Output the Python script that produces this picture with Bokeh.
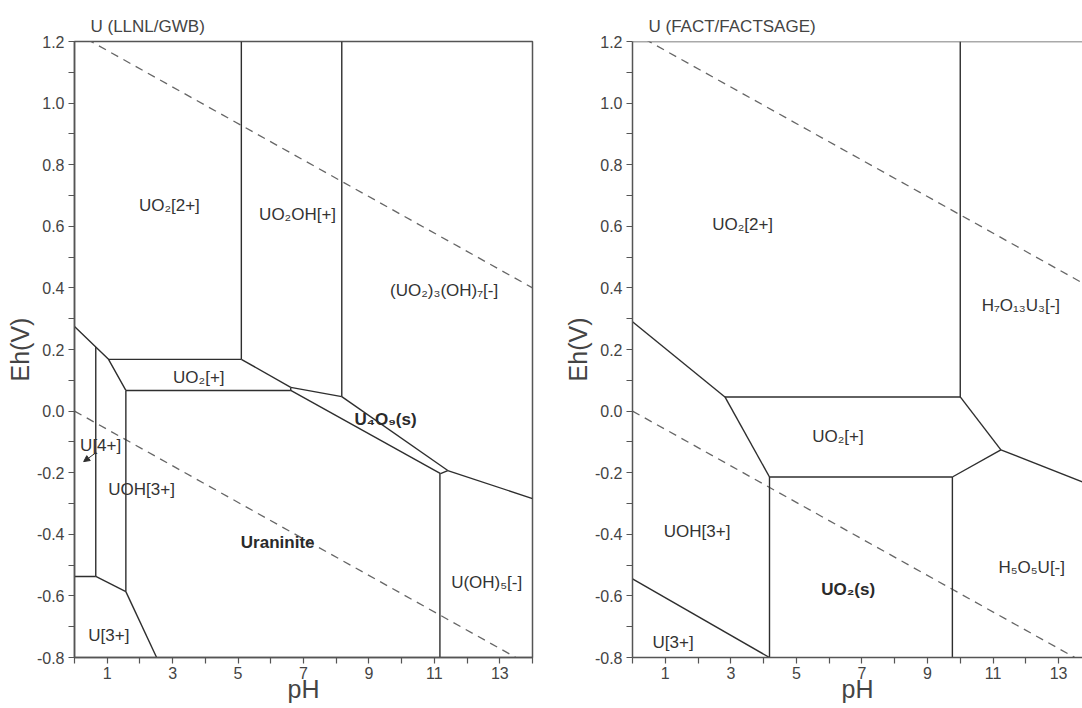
from bokeh.plotting import figure
from bokeh.layouts import row
from bokeh.models import FixedTicker, Span, Arrow, NormalHead, Range1d, PrintfTickFormatter
from bokeh.embed import file_html
from bokeh.resources import INLINE
from bokeh.core.properties import value

FONT = "Liberation Sans"

# ---------------- axes / ticks ----------------
ph_ticks = [1, 3, 5, 7, 9, 11, 13]
ph_minor = [0, 2, 4, 6, 8, 10, 12, 14]
eh_ticks = [-0.8, -0.6, -0.4, -0.2, 0.0, 0.2, 0.4, 0.6, 0.8, 1.0, 1.2]
eh_minor = [-0.7, -0.5, -0.3, -0.1, 0.1, 0.3, 0.5, 0.7, 0.9, 1.1]
ph_range_left = [0, 14]
ph_range_right = [0, 13.73]
eh_range = [-0.8, 1.2]

# ---------------- water stability lines (dashed) ----------------
water_ph = [0, 14]
water_upper_eh = [1.23, 0.40]
water_lower_eh = [0.0, -0.83]

# ---------------- LLNL/GWB panel boundaries ----------------
llnl_bound_ph = [
    [5.10, 5.10],            # UO2[2+] | UO2OH[+]
    [8.17, 8.17],            # UO2OH[+] | (UO2)3(OH)7[-]
    [1.04, 5.10],            # UO2[2+] | UO2[+]
    [5.10, 6.61],            # UO2OH[+] | UO2[+]
    [6.61, 8.17],            # UO2OH[+] | U4O9
    [8.17, 11.41],           # (UO2)3(OH)7[-] | U4O9
    [1.57, 6.61],            # UO2[+] | Uraninite
    [6.61, 11.19],           # U4O9 | Uraninite
    [6.61, 6.61],            # junction
    [11.19, 11.41],          # U4O9 | U(OH)5[-]
    [11.17, 11.17],          # Uraninite | U(OH)5[-]
    [11.41, 14.0],           # (UO2)3(OH)7[-] | U(OH)5[-]
    [0.0, 1.04, 1.57],       # UO2[2+] | U[4+], UOH[3+]
    [0.65, 0.65],            # U[4+] | UOH[3+]
    [1.57, 1.57],            # UOH[3+] | Uraninite
    [0.0, 0.65],             # U[4+] | U[3+]
    [0.65, 1.57],            # UOH[3+] | U[3+]
    [1.57, 2.51],            # U[3+] | Uraninite
]
llnl_bound_eh = [
    [1.2, 0.168],
    [1.2, 0.047],
    [0.168, 0.168],
    [0.168, 0.077],
    [0.077, 0.047],
    [0.047, -0.193],
    [0.067, 0.067],
    [0.067, -0.203],
    [0.077, 0.067],
    [-0.203, -0.193],
    [-0.203, -0.8],
    [-0.193, -0.284],
    [0.275, 0.168, 0.067],
    [0.208, -0.537],
    [0.067, -0.586],
    [-0.537, -0.537],
    [-0.537, -0.586],
    [-0.586, -0.8],
]

llnl_label_text = ["UO₂[2+]", "UO₂OH[+]", "(UO₂)₃(OH)₇[-]", "UO₂[+]", "U[4+]",
                   "UOH[3+]", "U(OH)₅[-]", "U[3+]"]
llnl_label_ph = [2.90, 6.82, 11.30, 3.80, 0.80, 2.05, 12.60, 1.05]
llnl_label_eh = [0.668, 0.638, 0.392, 0.108, -0.112, -0.255, -0.555, -0.727]

llnl_bold_text = ["U₄O₉(s)", "Uraninite"]
llnl_bold_ph = [9.51, 6.21]
llnl_bold_eh = [-0.028, -0.428]

u4_arrow_ph = [0.67, 0.28]
u4_arrow_eh = [-0.134, -0.164]

# ---------------- FACT/FACTSAGE panel boundaries ----------------
fact_bound_ph = [
    [10.0, 10.0],            # UO2[2+] | H7O13U3[-]
    [2.82, 10.0],            # UO2[2+] | UO2[+]
    [0.0, 2.82],             # UO2[2+] | UOH[3+]
    [2.82, 4.18],            # UO2[+] | UOH[3+]
    [4.18, 9.76],            # UO2[+] | UO2(s)
    [4.18, 4.18],            # UOH[3+] | UO2(s)
    [9.76, 9.76],            # UO2(s) | H5O5U[-]
    [9.76, 11.24],           # UO2[+] | H5O5U[-]
    [10.0, 11.24],           # UO2[+] | H7O13U3[-]
    [11.24, 14.0],           # H7O13U3[-] | H5O5U[-]
    [0.0, 4.18],             # UOH[3+] | U[3+]
]
fact_bound_eh = [
    [1.2, 0.046],
    [0.046, 0.046],
    [0.29, 0.046],
    [0.046, -0.214],
    [-0.214, -0.214],
    [-0.214, -0.8],
    [-0.214, -0.8],
    [-0.214, -0.126],
    [0.046, -0.126],
    [-0.126, -0.241],
    [-0.545, -0.8],
]

fact_label_text = ["UO₂[2+]", "H₇O₁₃U₃[-]", "UO₂[+]", "UOH[3+]", "H₅O₅U[-]", "U[3+]"]
fact_label_ph = [3.36, 11.85, 6.27, 1.97, 12.18, 1.24]
fact_label_eh = [0.605, 0.342, -0.083, -0.390, -0.508, -0.752]

fact_bold_text = ["UO₂(s)"]
fact_bold_ph = [6.58]
fact_bold_eh = [-0.580]

LINE = "#2e2e2e"
AXIS = "#555555"
TXT = "#333333"


def make_panel(title, xr, width, border_left, border_right, title_offset):
    p = figure(width=width, height=708, x_range=Range1d(*xr), y_range=Range1d(*eh_range),
               output_backend="svg", toolbar_location=None, title=title,
               min_border_left=border_left, min_border_right=border_right,
               min_border_top=41, min_border_bottom=51)
    p.grid.visible = False
    p.background_fill_color = "white"
    p.border_fill_color = "white"
    p.title.text_font = FONT
    p.title.text_font_size = "17px"
    p.title.text_font_style = "normal"
    p.title.text_color = "#444444"
    p.title.align = "left"
    p.title.offset = title_offset
    p.title.standoff = 12

    p.xaxis.ticker = FixedTicker(ticks=ph_ticks, minor_ticks=ph_minor)
    p.yaxis.ticker = FixedTicker(ticks=eh_ticks, minor_ticks=eh_minor)
    p.yaxis.formatter = PrintfTickFormatter(format="%.1f")
    p.xaxis.axis_label = "pH"
    p.yaxis.axis_label = "Eh(V)"
    for ax in (p.xaxis, p.yaxis):
        ax.axis_line_color = AXIS
        ax.axis_line_width = 1.5
        ax.major_tick_line_color = AXIS
        ax.minor_tick_line_color = AXIS
        ax.major_tick_line_width = 1.2
        ax.minor_tick_line_width = 1.2
        ax.major_tick_in = 0
        ax.major_tick_out = 6
        ax.minor_tick_in = 0
        ax.minor_tick_out = 6
        ax.major_label_text_font = FONT
        ax.major_label_text_font_size = "16px"
        ax.major_label_text_color = "#444444"
        ax.axis_label_text_font = FONT
        ax.axis_label_text_font_size = "25px"
        ax.axis_label_text_font_style = "normal"
        ax.axis_label_text_color = "#444444"
    p.xaxis.major_label_standoff = 3
    p.xaxis.axis_label_standoff = -7
    p.yaxis.major_label_standoff = 4
    p.yaxis.axis_label_standoff = 0

    p.line(water_ph, water_upper_eh, line_color="#666666", line_width=1.3, line_dash="8 6")
    p.line(water_ph, water_lower_eh, line_color="#666666", line_width=1.3, line_dash="8 6")
    return p


# ---------------- left panel ----------------
p1 = make_panel("U (LLNL/GWB)", ph_range_left, 560, 74, 28, 16)
p1.outline_line_color = AXIS
p1.outline_line_width = 1.5
p1.multi_line(llnl_bound_ph, llnl_bound_eh, line_color=LINE, line_width=1.4)
p1.text(x=llnl_label_ph, y=llnl_label_eh, text=llnl_label_text,
        text_font=value(FONT), text_font_size="17px", text_color=TXT,
        text_align="center", text_baseline="middle")
p1.text(x=llnl_bold_ph, y=llnl_bold_eh, text=llnl_bold_text,
        text_font=value(FONT), text_font_size="17px", text_font_style="bold",
        text_color="#2a2a2a", text_align="center", text_baseline="middle")
p1.add_layout(Arrow(end=NormalHead(size=6, fill_color=LINE, line_color=LINE),
                    x_start=u4_arrow_ph[0], y_start=u4_arrow_eh[0],
                    x_end=u4_arrow_ph[1], y_end=u4_arrow_eh[1],
                    line_color=LINE, line_width=1))

# ---------------- right panel ----------------
p2 = make_panel("U (FACT/FACTSAGE)", ph_range_right, 522, 69, 0, 16)
p2.outline_line_color = None
p2.add_layout(Span(location=eh_range[1], dimension="width", line_color=AXIS, line_width=1.5))
p2.multi_line(fact_bound_ph, fact_bound_eh, line_color=LINE, line_width=1.4)
p2.text(x=fact_label_ph, y=fact_label_eh, text=fact_label_text,
        text_font=value(FONT), text_font_size="17px", text_color=TXT,
        text_align="center", text_baseline="middle")
p2.text(x=fact_bold_ph, y=fact_bold_eh, text=fact_bold_text,
        text_font=value(FONT), text_font_size="17px", text_font_style="bold",
        text_color="#2a2a2a", text_align="center", text_baseline="middle")

layout = row(p1, p2)
open("out.html", "w").write(file_html(layout, INLINE))
